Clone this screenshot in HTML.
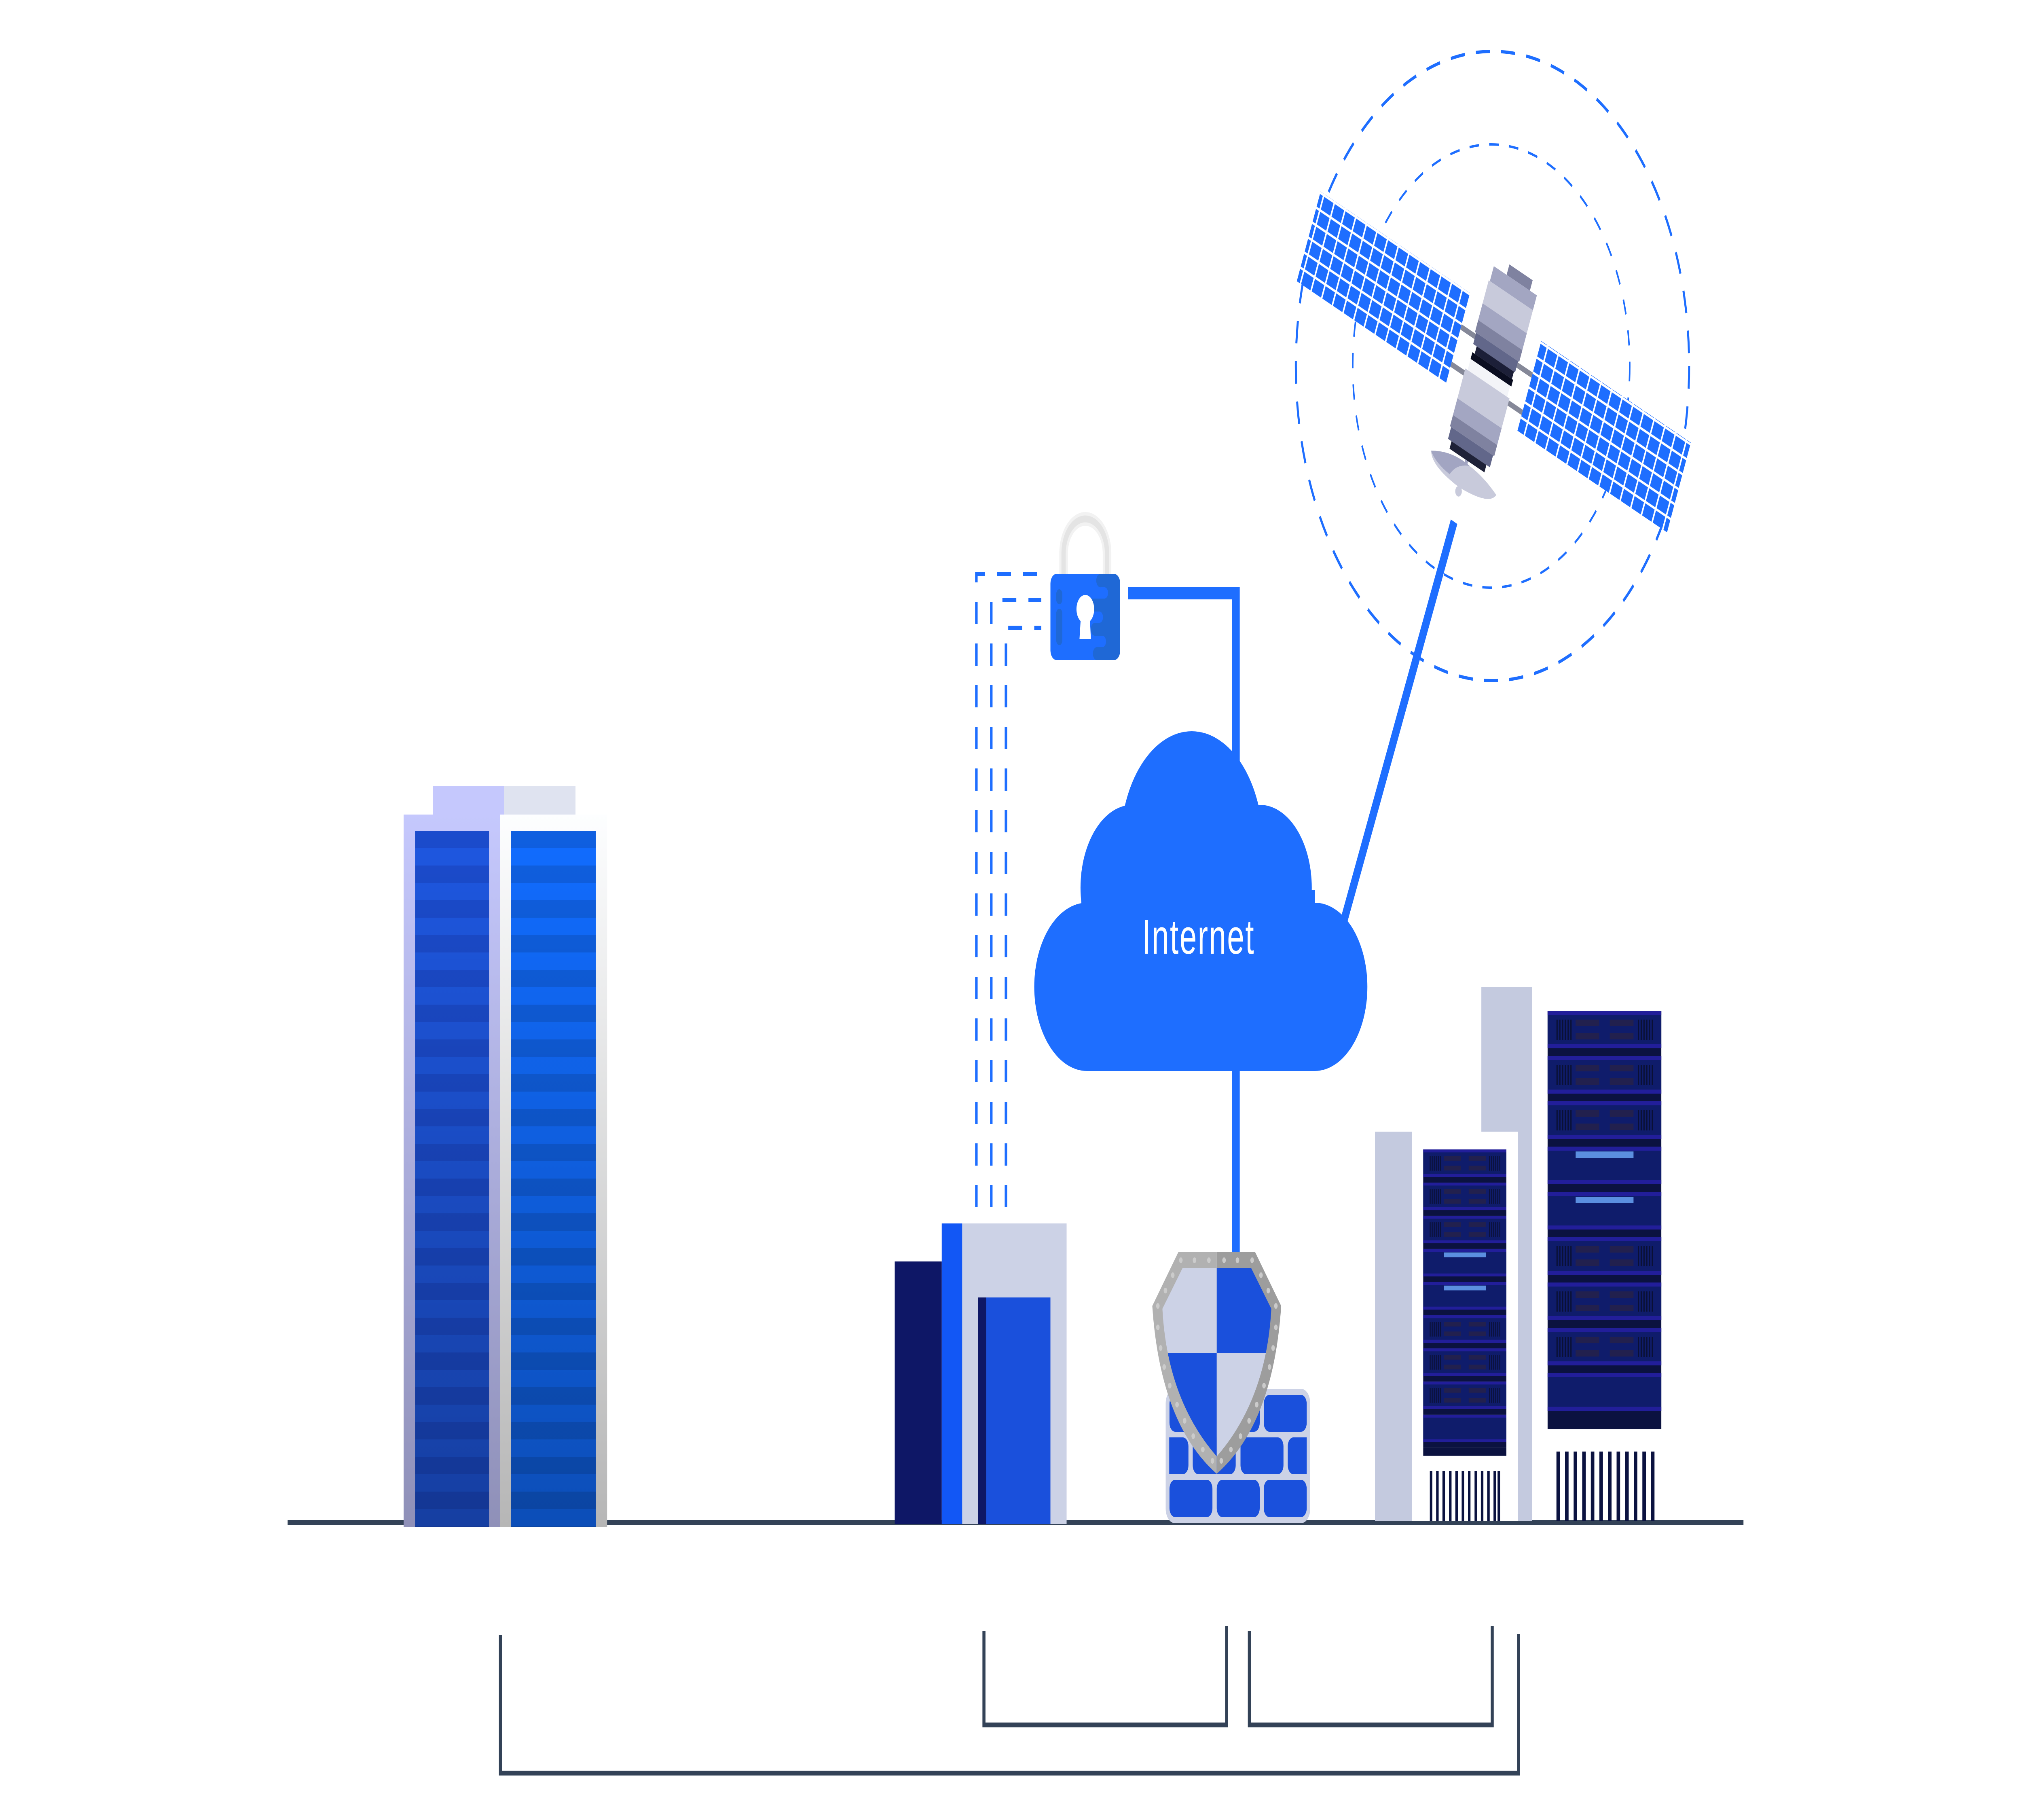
<!DOCTYPE html>
<html><head><meta charset="utf-8"><style>
html,body{margin:0;padding:0;background:#fff;width:100%;height:100%;overflow:hidden;}
svg{display:block;width:100vw;height:100vh;}
</style></head><body>
<svg viewBox="0 0 8000 4500" preserveAspectRatio="none" xmlns="http://www.w3.org/2000/svg">
<defs>
<pattern id="winL" patternUnits="userSpaceOnUse" x="0" y="2054" width="10" height="86"><rect width="10" height="43" fill="#1b4bcc"/><rect y="43" width="10" height="43" fill="#1e57e0"/></pattern>
<pattern id="winR" patternUnits="userSpaceOnUse" x="0" y="2054" width="10" height="86"><rect width="10" height="43" fill="#0f5fe0"/><rect y="43" width="10" height="43" fill="#116cff"/></pattern>
<linearGradient id="shade" x1="0" y1="0" x2="0" y2="1"><stop offset="0" stop-color="#000" stop-opacity="0"/><stop offset="1" stop-color="#000" stop-opacity="0.28"/></linearGradient>
<linearGradient id="towL" x1="0" y1="0" x2="0" y2="1"><stop offset="0" stop-color="#c5c8fd"/><stop offset="1" stop-color="#8f90b8"/></linearGradient>
<linearGradient id="towR" x1="0" y1="0" x2="0" y2="1"><stop offset="0" stop-color="#fdfeff"/><stop offset="1" stop-color="#b6b6b6"/></linearGradient>
<clipPath id="shieldIn"><path d="M4679,3135 L4950,3135 L5030,3236 Q5010,3460 4814,3601 Q4618,3460 4599,3236 Z"/></clipPath>
<pattern id="cells" patternUnits="userSpaceOnUse" x="0" y="0" width="45.8" height="40.2"><rect x="3" y="3" width="40" height="34" fill="#1e6eff"/></pattern>
<g id="unitV">
<rect width="450" height="112" fill="#0b1240"/><rect width="450" height="93" fill="#0f1c6b"/>
<rect width="450" height="10" fill="#221e9a"/><rect y="83" width="450" height="10" fill="#221e9a"/>
<g fill="#0a1035"><rect x="35" y="22" width="5" height="50"/><rect x="46" y="22" width="5" height="50"/><rect x="57" y="22" width="5" height="50"/><rect x="68" y="22" width="5" height="50"/><rect x="79" y="22" width="5" height="50"/><rect x="90" y="22" width="5" height="50"/>
<rect x="357" y="22" width="5" height="50"/><rect x="368" y="22" width="5" height="50"/><rect x="379" y="22" width="5" height="50"/><rect x="390" y="22" width="5" height="50"/><rect x="401" y="22" width="5" height="50"/><rect x="412" y="22" width="5" height="50"/></g>
<g fill="#22204e"><rect x="111" y="22" width="93" height="16"/><rect x="246" y="22" width="94" height="16"/><rect x="111" y="55" width="93" height="16"/><rect x="246" y="55" width="94" height="16"/></g>
</g>
<g id="unitL">
<rect width="450" height="112" fill="#0b1240"/><rect width="450" height="93" fill="#0f1c6b"/>
<rect width="450" height="10" fill="#221e9a"/><rect y="83" width="450" height="10" fill="#221e9a"/>
<rect x="111" y="12" width="229" height="16" fill="#5b8fe0"/>
</g>
<g id="unitP">
<rect width="450" height="112" fill="#0b1240"/><rect width="450" height="93" fill="#0f1c6b"/>
<rect width="450" height="10" fill="#221e9a"/><rect y="83" width="450" height="10" fill="#221e9a"/>
</g>
<g id="rack">
<use href="#unitV" y="0"/><use href="#unitV" y="112"/><use href="#unitV" y="224"/><use href="#unitL" y="336"/><use href="#unitL" y="448"/><use href="#unitV" y="560"/><use href="#unitV" y="672"/><use href="#unitV" y="784"/><use href="#unitP" y="896"/>
<rect y="1008" width="450" height="27" fill="#0b1240"/>
</g>
</defs>

<rect x="1138" y="3758" width="5760" height="12" fill="#334257"/>

<rect x="1713" y="1943" width="282" height="72" fill="#c5c8fd"/>
<rect x="1995" y="1943" width="282" height="72" fill="#dfe3f0"/>
<rect x="1597" y="2014" width="381" height="1762" fill="url(#towL)"/>
<rect x="1978" y="2014" width="424" height="1762" fill="url(#towR)"/>
<rect x="1642" y="2054" width="293" height="1722" fill="url(#winL)"/>
<rect x="1642" y="2054" width="293" height="1722" fill="url(#shade)"/>
<rect x="2022" y="2054" width="336" height="1722" fill="url(#winR)"/>
<rect x="2022" y="2054" width="336" height="1722" fill="url(#shade)"/>

<rect x="3540" y="3119" width="186" height="649" fill="#0e1766"/>
<rect x="3726" y="3025" width="81" height="743" fill="#1257f5"/>
<rect x="3807" y="3025" width="413" height="743" fill="#ccd2e6"/>
<rect x="3870" y="3208" width="32" height="560" fill="#0e1766"/>
<rect x="3902" y="3208" width="254" height="560" fill="#1a50dc"/>

<g fill="none" stroke="#1e6eff" stroke-width="10" stroke-dasharray="55 48">
<path d="M3863,2985 V1419 H4120"/>
<path d="M3922,2985 V1484 H4120"/>
<path d="M3980,2985 V1552 H4120"/>
</g>

<path d="M4208,1430 V1369 A86,86 0 0 1 4380,1369 V1430" fill="none" stroke="#f2f2f2" stroke-width="34"/>
<path d="M4208,1430 V1369 A86,86 0 0 1 4380,1369 V1430" fill="none" stroke="#e4e4e4" stroke-width="17"/>
<rect x="4156" y="1419" width="276" height="213" rx="24" fill="#1e6eff"/>
<path d="M4352,1419 H4408 A24,24 0 0 1 4432,1443 V1608 A24,24 0 0 1 4408,1632 H4340 A16,16 0 0 1 4340,1600 H4362 A14,14 0 0 0 4362,1572 H4332 A16,16 0 0 1 4332,1540 H4350 A14,14 0 0 0 4350,1512 H4320 A16,16 0 0 1 4320,1480 H4370 A14,14 0 0 0 4370,1452 H4356 A16,16 0 0 1 4352,1419 Z" fill="#1f68d6"/>
<rect x="4179" y="1457" width="24" height="37" rx="12" fill="#1f68d6"/>
<rect x="4179" y="1505" width="24" height="90" rx="12" fill="#1f68d6"/>
<circle cx="4294" cy="1506" r="35" fill="#fff"/>
<path d="M4276,1528 L4312,1528 L4316,1580 L4271,1580 Z" fill="#fff"/>

<path d="M4464,1467 H4890 V2050" fill="none" stroke="#1e6eff" stroke-width="30"/>
<rect x="4875" y="2600" width="30" height="530" fill="#1e6eff"/>
<path d="M5753,1290 L5319,2272" stroke="#1e6eff" stroke-width="28" fill="none"/>

<g fill="#1e6eff">
<circle cx="4300" cy="2440" r="208"/>
<circle cx="5202" cy="2440" r="208"/>
<circle cx="4480" cy="2195" r="205"/>
<circle cx="4985" cy="2195" r="205"/>
<circle cx="4715" cy="2090" r="282"/>
<rect x="4300" y="2200" width="902" height="448"/>
</g>
<text x="4742" y="2358" font-family="Liberation Sans, sans-serif" font-size="122" fill="#fff" text-anchor="middle" letter-spacing="4">Internet</text>

<rect x="4612" y="3434" width="572" height="332" rx="36" fill="#ccd2e6"/>
<g fill="#1a50dc">
<rect x="4627" y="3449" width="170" height="91" rx="22"/><rect x="4814" y="3449" width="170" height="91" rx="22"/><rect x="5000" y="3449" width="170" height="91" rx="22"/>
<path d="M4626,3554 H4680 A22,22 0 0 1 4702,3576 V3623 A22,22 0 0 1 4680,3645 H4626 Z"/>
<rect x="4719" y="3554" width="170" height="91" rx="22"/><rect x="4908" y="3554" width="170" height="91" rx="22"/>
<path d="M5170,3554 H5117 A22,22 0 0 0 5095,3576 V3623 A22,22 0 0 0 5117,3645 H5170 Z"/>
<rect x="4627" y="3659" width="170" height="92" rx="22"/><rect x="4814" y="3659" width="170" height="92" rx="22"/><rect x="5000" y="3659" width="170" height="92" rx="22"/>
</g>

<path d="M4662,3096 L4814,3096 L4814,3644 Q4590,3520 4559,3229 Z" fill="#b1b1b1"/>
<path d="M4814,3096 L4966,3096 L5069,3229 Q5038,3520 4814,3644 Z" fill="#9d9d9d"/>
<g clip-path="url(#shieldIn)">
<rect x="4590" y="3130" width="224" height="215" fill="#ccd2e6"/>
<rect x="4814" y="3130" width="224" height="215" fill="#1a50dc"/>
<rect x="4590" y="3345" width="224" height="260" fill="#1a50dc"/>
<rect x="4814" y="3345" width="224" height="260" fill="#ccd2e6"/>
</g>
<g fill="#cbcbcb">
<ellipse cx="4672" cy="3116" rx="7" ry="7"/><ellipse cx="4726" cy="3116" rx="7" ry="7"/><ellipse cx="4783" cy="3116" rx="7" ry="7"/>
<ellipse cx="4843" cy="3116" rx="7" ry="7"/><ellipse cx="4896" cy="3116" rx="7" ry="7"/><ellipse cx="4954" cy="3116" rx="7" ry="7"/>
<ellipse cx="4640" cy="3153" rx="7" ry="7"/><ellipse cx="4611" cy="3191" rx="7" ry="7"/><ellipse cx="4581" cy="3229" rx="7" ry="7"/>
<ellipse cx="4989" cy="3153" rx="7" ry="7"/><ellipse cx="5018" cy="3191" rx="7" ry="7"/><ellipse cx="5048" cy="3229" rx="7" ry="7"/>
<ellipse cx="4581" cy="3282" rx="7" ry="7"/><ellipse cx="4592" cy="3333" rx="7" ry="7"/><ellipse cx="4606" cy="3380" rx="7" ry="7"/><ellipse cx="4628" cy="3426" rx="7" ry="7"/><ellipse cx="4657" cy="3473" rx="7" ry="7"/><ellipse cx="4687" cy="3513" rx="7" ry="7"/><ellipse cx="4721" cy="3551" rx="7" ry="7"/><ellipse cx="4759" cy="3584" rx="7" ry="7"/><ellipse cx="4797" cy="3612" rx="7" ry="7"/>
<ellipse cx="5048" cy="3282" rx="7" ry="7"/><ellipse cx="5037" cy="3333" rx="7" ry="7"/><ellipse cx="5023" cy="3380" rx="7" ry="7"/><ellipse cx="5001" cy="3426" rx="7" ry="7"/><ellipse cx="4972" cy="3473" rx="7" ry="7"/><ellipse cx="4942" cy="3513" rx="7" ry="7"/><ellipse cx="4908" cy="3551" rx="7" ry="7"/><ellipse cx="4870" cy="3584" rx="7" ry="7"/><ellipse cx="4832" cy="3612" rx="7" ry="7"/>
</g>

<rect x="5440" y="2798" width="146" height="962" fill="#c4cadf"/>
<rect x="5861" y="2440" width="201" height="1320" fill="#c4cadf"/>
<rect x="5586" y="2798" width="419" height="962" fill="#fff"/>
<g transform="translate(5631,2842) scale(0.731,0.732)"><use href="#rack"/></g>
<use href="#rack" x="6123" y="2499"/>
<g fill="#0b1240">
<rect x="5657" y="3637" width="10" height="123"/><rect x="5682" y="3637" width="10" height="123"/><rect x="5707" y="3637" width="10" height="123"/><rect x="5733" y="3637" width="10" height="123"/><rect x="5758" y="3637" width="10" height="123"/><rect x="5783" y="3637" width="10" height="123"/><rect x="5808" y="3637" width="10" height="123"/><rect x="5834" y="3637" width="10" height="123"/><rect x="5859" y="3637" width="10" height="123"/><rect x="5884" y="3637" width="10" height="123"/><rect x="5909" y="3637" width="10" height="123"/><rect x="5925" y="3637" width="10" height="123"/>
<rect x="6158" y="3589" width="14" height="171"/><rect x="6192" y="3589" width="14" height="171"/><rect x="6226" y="3589" width="14" height="171"/><rect x="6260" y="3589" width="14" height="171"/><rect x="6294" y="3589" width="14" height="171"/><rect x="6328" y="3589" width="14" height="171"/><rect x="6362" y="3589" width="14" height="171"/><rect x="6396" y="3589" width="14" height="171"/><rect x="6430" y="3589" width="14" height="171"/><rect x="6464" y="3589" width="14" height="171"/><rect x="6498" y="3589" width="14" height="171"/><rect x="6532" y="3589" width="14" height="171"/>
</g>

<circle cx="5905" cy="905" r="778" fill="none" stroke="#1e6eff" stroke-width="8" stroke-dasharray="56 44"/>
<circle cx="5900" cy="905" r="548" fill="none" stroke="#1e6eff" stroke-width="6" stroke-dasharray="38 40"/>

<g transform="translate(5865,880) rotate(23)">
<rect x="-106" y="-40" width="310" height="14" fill="#858898"/>
<rect x="-106" y="60" width="310" height="14" fill="#858898"/>
<rect x="-748" y="-124" width="642" height="241" fill="#fff"/>
<rect x="-748" y="-124" width="642" height="241" fill="url(#cells)"/>
<rect x="200" y="-125" width="643" height="241" fill="#fff"/>
<rect x="200" y="-125" width="643" height="241" fill="url(#cells)"/>
<rect x="10" y="-250" width="100" height="28" fill="#7f82a0"/>
<rect x="-45" y="-222" width="185" height="40" fill="#a3a6c2"/>
<rect x="-50" y="-182" width="190" height="62" fill="#c8cadb"/>
<rect x="-50" y="-120" width="190" height="45" fill="#a3a6c2"/>
<rect x="-50" y="-75" width="190" height="32" fill="#7f82a0"/>
<rect x="-45" y="-43" width="180" height="30" fill="#62678a"/>
<rect x="-30" y="-13" width="160" height="20" fill="#1c1f38"/>
<rect x="-40" y="7" width="175" height="18" fill="#0a0d20"/>
<rect x="-40" y="25" width="170" height="30" fill="#f3f4f8"/>
<rect x="-50" y="55" width="190" height="80" fill="#c8cadb"/>
<rect x="-50" y="135" width="190" height="45" fill="#a3a6c2"/>
<rect x="-50" y="180" width="190" height="30" fill="#7f82a0"/>
<rect x="-45" y="210" width="180" height="32" fill="#62678a"/>
<rect x="-30" y="242" width="150" height="20" fill="#1f2238"/>
<rect x="38" y="262" width="12" height="80" fill="#a3a6c2"/>
<path d="M-95,295 Q44,245 185,295 Q170,330 44,335 Q-80,330 -95,295 Z" fill="#c8cadb"/>
<path d="M-95,295 Q-20,262 60,270 Q10,285 -5,320 Q-70,315 -95,295 Z" fill="#a2a5c2"/>
<circle cx="44" cy="345" r="13" fill="#c8cadb"/>
</g>

<g fill="none" stroke="#334257" stroke-width="12">
<path d="M1980,4042 V4384 H6008 V4040"/>
<path d="M3893,4032 V4265 H4853 V4020"/>
<path d="M4943,4032 V4265 H5904 V4020"/>
</g>
</svg>
</body></html>
